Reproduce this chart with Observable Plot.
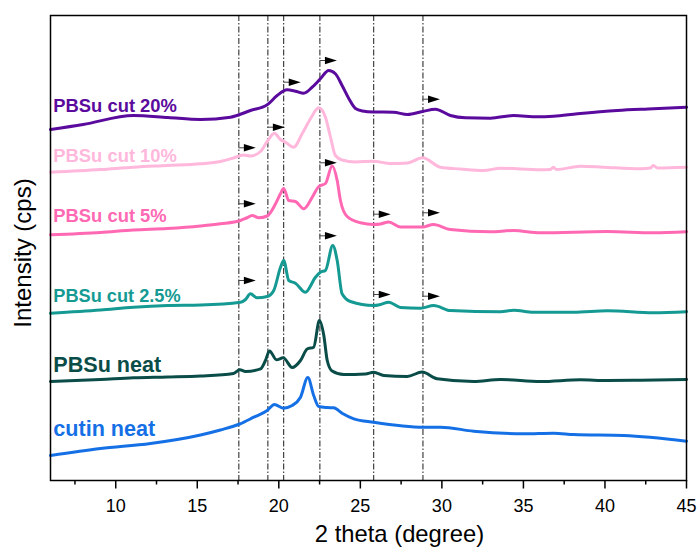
<!DOCTYPE html>
<html>
<head>
<meta charset="utf-8">
<script src="https://cdn.jsdelivr.net/npm/d3@7"></script>
<script src="https://cdn.jsdelivr.net/npm/@observablehq/plot@0.6"></script>
<style>
  body { margin: 0; background: #fff; }
  #chart svg { display: block; }
</style>
</head>
<body>
<div id="chart"></div>
<script>
// XRD patterns: 2 theta (degree) vs intensity (arbitrary, stacked offsets included)
const seriesNames = ["PBSu cut 20%", "PBSu cut 10%", "PBSu cut 5%", "PBSu cut 2.5%", "PBSu neat", "cutin neat"];
const seriesColors = ["#5a0a9c", "#ffb8dc", "#ff69b4", "#159a93", "#0a4d48", "#1570e6"];

const cut20 = [[6,351],[8,356],[11.09,365],[13.2,363],[15.2,361],[17.04,363.3],[18.26,370],[19.29,375.7],[19.9,385],[20.51,390.7],[21.02,389.3],[21.53,387.3],[22.05,393.3],[22.55,401.7],[23.06,410],[23.47,406.7],[23.88,395],[24.29,382],[24.7,372],[25.13,369.5],[25.8,368.5],[27.03,368.3],[27.89,366],[28.81,369],[29.6,371.3],[30.52,365],[31.44,362.7],[32.98,362.3],[34.39,365],[35.86,363.7],[36.84,364.3],[38.31,366.7],[40.76,370],[42.97,371.7],[45,373.3]];
const cut10 = [[6,308.3],[9.07,311],[11.09,313.3],[13.17,315],[15.2,316.7],[16.42,319],[17.22,322.5],[17.83,325.5],[18.26,324.5],[18.88,329],[19.29,339],[19.73,347.3],[20.1,341],[20.41,338.3],[20.92,333.3],[21.43,346.7],[21.94,361.7],[22.45,372.7],[22.86,363.3],[23.17,343.3],[23.47,325],[23.88,320.5],[24.7,318.5],[25.8,319.3],[26.85,317],[27.89,317.5],[28.81,322.7],[29.91,313.3],[31.14,311.5],[32.55,310],[33.59,312.3],[36.04,310.7],[36.66,311],[36.84,313.3],[37.02,311],[38.5,314.3],[39.9,313.3],[42.17,311.7],[42.79,312.5],[42.97,315],[43.22,312.5],[45,313.3]];
const cut5 = [[6,245.7],[9.07,248],[11.09,250.5],[13.17,252],[15.2,254.5],[16.42,256.7],[17.65,260],[18.02,262.5],[18.37,265],[18.77,262.7],[19.29,264.5],[19.8,276.7],[20.1,286.7],[20.3,292],[20.61,280],[21.02,279],[21.53,271.7],[22.05,283.3],[22.45,294],[22.86,297],[23.27,314.5],[23.58,300],[23.78,280],[24.19,264],[25.01,257.7],[25.82,256],[26.23,256.5],[26.74,258.5],[27.46,253.5],[28.81,253.5],[29.48,256],[30.52,251],[32.98,248.7],[34.39,250],[36.04,247.7],[40.15,249],[42.97,247.7],[45,248.7]];
const cut2_5 = [[6,167.3],[9.07,170.5],[11.09,173.3],[13.17,175],[15.2,175.5],[17.65,178.3],[17.96,181],[18.26,186.7],[18.67,182.7],[19.29,184],[19.69,190],[20.1,213],[20.3,220],[20.61,200],[21.02,197.3],[21.63,188.3],[22.25,203.3],[22.55,208.3],[22.86,210],[23.31,235],[23.58,220],[23.88,186.7],[24.39,179],[25.82,175],[26.23,176],[26.74,178.3],[27.46,173],[28.69,172.3],[29.5,175],[30.52,170],[33.59,168.7],[34.4,170.3],[35.61,168.3],[38.07,168.3],[40.15,169.7],[42.97,167.7],[45,168.7]];
const pbsuNeat = [[6,99],[9.07,101],[11.09,102.7],[13.17,103.5],[15.2,104.5],[17.22,107],[17.61,110.7],[17.96,109],[18.88,111.7],[19.18,120],[19.43,129.5],[19.86,120.7],[20.27,122.7],[20.82,113],[21.33,120],[21.74,131.5],[22.14,133.3],[22.49,160],[22.76,145],[22.97,120],[23.27,109.5],[23.98,106],[25.31,106.5],[25.82,108.3],[26.44,105],[27.87,104],[28.79,108.5],[29.71,101.7],[31.95,99],[33.59,101],[36.04,99],[38.5,100.7],[40.13,100],[42.17,100.3],[45,101]];
const cutinNeat = [[6,25],[9.07,32],[12.13,37],[15.2,45.5],[16.42,50.5],[17.61,56.5],[18.47,63.3],[19.29,70],[19.73,76],[20.27,72.3],[20.82,75],[21.33,83.3],[21.78,103],[22.14,85],[22.45,74],[22.96,73],[23.37,72.7],[23.88,67.3],[24.6,61.7],[25.82,58.3],[28.89,53.3],[29.91,53.3],[31.95,49.3],[35.02,46.7],[36.86,47.3],[38.09,46],[41.15,45],[45,39.3]];
const seriesPoints = [cut20, cut10, cut5, cut2_5, pbsuNeat, cutinNeat];

// label baselines (same intensity units)
const labelY = [369, 319, 259, 178.3, 108.3, 44.5];
const labelSize = [18.4, 18.4, 18.4, 18.2, 21.6, 21.6];

// reference lines (degrees)
const refLines = [17.55, 19.33, 20.3, 22.52, 25.82, 28.84];

// shift arrows: start (degree) and level
const arrowX = [20.3, 22.52, 28.84, 17.55, 19.33, 17.55, 22.52, 25.82, 28.84, 17.55, 22.52, 25.82, 28.84];
const arrowY = [398.3, 420, 381.3, 332.7, 353.3, 276.7, 317.7, 266.3, 267.7, 200, 244.7, 186, 184.3];

const majorTicks = [10, 15, 20, 25, 30, 35, 40, 45];
const minorTicks = [7.5, 12.5, 17.5, 22.5, 27.5, 32.5, 37.5, 42.5];

const table = seriesNames.flatMap((name, i) => seriesPoints[i].map(([x, y]) => ({x, y, name})));
const labels = seriesNames.map((name, i) => ({name, y: labelY[i], size: labelSize[i], color: seriesColors[i]}));
const arrows = arrowX.map((x, i) => ({x, y: arrowY[i]}));

const headSymbol = {
  draw(context, size) {
    const r = Math.sqrt(size / Math.PI);
    context.moveTo(r * 1.3, 0);
    context.lineTo(-r * 1.3, -r * 0.8);
    context.lineTo(-r * 1.3, r * 0.8);
    context.closePath();
  }
};

const font = "'Liberation Sans', Arial, Helvetica, sans-serif";

const chart = Plot.plot({
  width: 697,
  height: 548,
  marginLeft: 50,
  marginRight: 11,
  marginTop: 15,
  marginBottom: 68,
  style: {fontFamily: font, background: "#fff", color: "#000"},
  x: {domain: [6, 45]},
  y: {domain: [0, 465], axis: null},
  color: {domain: seriesNames, range: seriesColors},
  marks: [
    Plot.ruleX(refLines, {stroke: "#000", strokeWidth: 0.9, strokeDasharray: "6,2,1.5,2"}),
    Plot.line(table, {x: "x", y: "y", z: "name", stroke: "name", strokeWidth: 3, curve: "monotone-x"}),
    Plot.ruleY(arrows, {y: "y", x1: "x", x2: d => d.x + 0.45, stroke: "#444", strokeWidth: 1}),
    Plot.dot(arrows, {x: "x", y: "y", dx: 11, r: 4.6, symbol: headSymbol, fill: "#000", stroke: "none"}),
    Plot.text(labels, {x: 6.17, y: "y", text: "name", fill: d => d.color, fontSize: "size", fontWeight: "bold", textAnchor: "start", lineAnchor: "bottom"}),
    Plot.frame({stroke: "#000", strokeWidth: 1.5}),
    Plot.axisX(majorTicks, {tickSize: 8.5, tickPadding: 10, fontSize: 18, stroke: "#000", strokeWidth: 1.5, fill: "#000", label: null}),
    Plot.axisX(minorTicks, {tickSize: 4.5, tickFormat: () => "", stroke: "#000", strokeWidth: 1.5, label: null}),
    Plot.text(["2 theta (degree)"], {frameAnchor: "bottom", dx: 31, dy: 61, lineAnchor: "bottom", fontSize: 23.8, fill: "#000"}),
    Plot.text(["Intensity (cps)"], {frameAnchor: "left", textAnchor: "middle", dx: -27, dy: 5, rotate: -90, fontSize: 24, fill: "#000"})
  ]
});

document.getElementById("chart").appendChild(chart);
</script>
</body>
</html>
